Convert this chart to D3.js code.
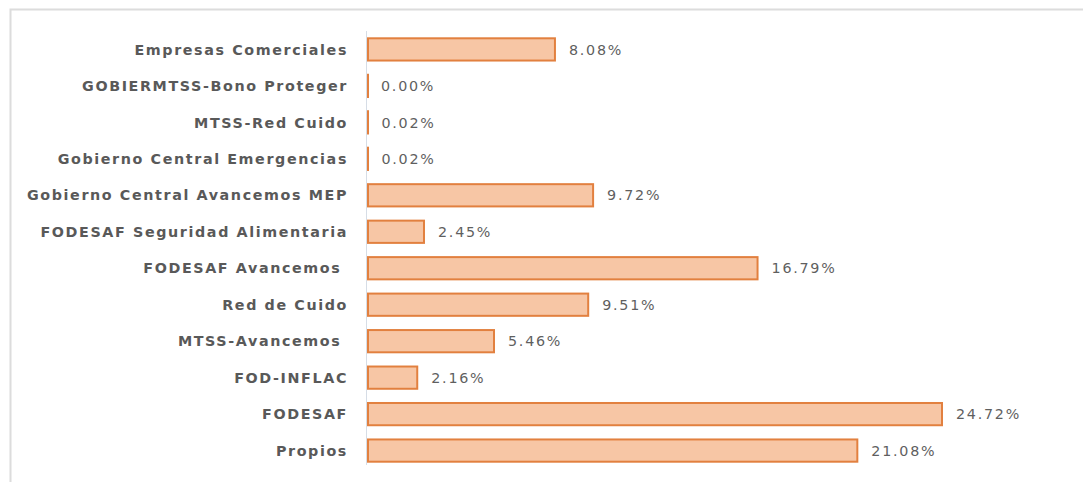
<!DOCTYPE html>
<html><head><meta charset="utf-8">
<script src="https://cdn.jsdelivr.net/npm/d3@7"></script>
<style>html,body{margin:0;padding:0;background:#fff;}svg{display:block;} text{white-space:pre;}</style>
</head><body>
<svg id="c" width="1083" height="482"></svg>
<script>
const categories = ["Empresas Comerciales","GOBIERMTSS-Bono Proteger","MTSS-Red Cuido","Gobierno Central Emergencias","Gobierno Central Avancemos MEP","FODESAF Seguridad Alimentaria","FODESAF Avancemos ","Red de Cuido","MTSS-Avancemos ","FOD-INFLAC","FODESAF","Propios"];
const values = [8.08,0.00,0.02,0.02,9.72,2.45,16.79,9.51,5.46,2.16,24.72,21.08];
const valueLabels = ["8.08%","0.00%","0.02%","0.02%","9.72%","2.45%","16.79%","9.51%","5.46%","2.16%","24.72%","21.08%"];

const svg = d3.select("#c");
svg.append("path").attr("d","M10.5,482 V9.5 H1083").attr("fill","none").attr("stroke","#dcdcdc").attr("stroke-width",2);

const x0 = 367;
const x = d3.scaleLinear().domain([0,24.72]).range([x0, 942]);
const y = d3.scaleBand().domain(categories).range([31, 469]).paddingInner(0.39).paddingOuter(0.2);

svg.append("line").attr("x1",x0-0.5).attr("x2",x0-0.5).attr("y1",31).attr("y2",465).attr("stroke","#d6dde6").attr("stroke-width",1);

const g = svg.append("g");
g.selectAll("rect").data(categories).join("rect")
  .attr("x", x0+1)
  .attr("y", d=>y(d))
  .attr("width", (d,i)=>Math.max(0.01, x(values[i])-x0-1))
  .attr("height", y.bandwidth())
  .attr("fill","#f7c6a5")
  .attr("stroke","#e2803f")
  .attr("stroke-width",2);

const font = "'DejaVu Sans', sans-serif";
const cats = svg.selectAll("text.cat").data(categories).join("text").attr("class","cat")
  .attr("x",348).attr("y",d=>y(d)+y.bandwidth()/2)
  .attr("dy","0.36em").attr("text-anchor","end")
  .attr("font-family",font).attr("font-weight","bold")
  .attr("font-size",14.3).attr("fill","#595959")
  .text(d=>d);

const vals = svg.selectAll("text.val").data(categories).join("text").attr("class","val")
  .attr("x",(d,i)=>x(values[i])+14).attr("y",d=>y(d)+y.bandwidth()/2)
  .attr("dy","0.36em")
  .attr("font-family",font)
  .attr("font-size",14.3).attr("fill","#5f5f5f")
  .text((d,i)=>valueLabels[i]);

// adjust letter spacing to match the reference's wide typeface
const longest = cats.filter((d,i)=>i===4).node();
const w = longest.getComputedTextLength();
const n = longest.textContent.length;
cats.attr("letter-spacing", ((321 - w)/n).toFixed(2) + "px");
const vnode = vals.filter((d,i)=>i===10).node();
const vw = vnode.getComputedTextLength();
vals.attr("letter-spacing", ((65 - vw)/6).toFixed(2) + "px");
</script>
</body></html>
